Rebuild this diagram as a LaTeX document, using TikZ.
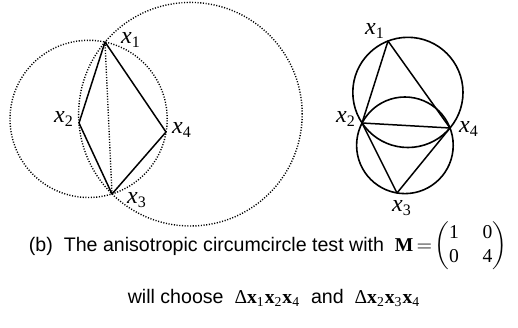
\documentclass[tikz,border=0pt]{standalone}
\usepackage{fontspec}
\setmainfont{Liberation Sans}
\newfontfamily\serif{Liberation Serif}
\usepackage{tikz}
\usetikzlibrary{calc}

\newcommand{\lbl}[1]{{\serif\textit{x}\textsubscript{#1}}}
\newcommand{\bvx}[1]{{\serif\textbf{x}\textsubscript{#1}}}

\begin{document}
\begin{tikzpicture}[x=0.5pt,y=0.5pt,
    edge/.style={line width=0.75pt, line join=round},
    dotcirc/.style={line width=0.7pt, dash pattern=on 0.55pt off 0.8pt},
    solcirc/.style={line width=0.8pt},
    lab/.style={font=\fontsize{12}{14}\selectfont, inner sep=0pt},
    captxt/.style={font=\fontsize{9.8}{12}\selectfont, inner sep=0pt}]
  \useasboundingbox (0,0) rectangle (518,-327);

  % Left: circumcircle test with M = I
  \coordinate (a1) at (105,-42);
  \coordinate (a2) at (79,-123);
  \coordinate (a3) at (112,-194);
  \coordinate (a4) at (166,-132);
  \draw[dotcirc] (190.4,-114.2) circle (111.8);
  \draw[dotcirc] (88.6,-118.9) circle (78.6);
  \draw[dotcirc] (a1) -- (a3);
  \draw[edge] (a1) -- (a2) -- (a3) -- (a4) -- cycle;
  \node[lab] (la1) at (131,-40) {\lbl{1}};
  \node[lab] (la2) at (64,-119) {\lbl{2}};
  \node[lab] (la3) at (137,-200) {\lbl{3}};
  \node[lab] (la4) at (182,-130) {\lbl{4}};

  % Right: anisotropic test
  \coordinate (b1) at (388,-41);
  \coordinate (b2) at (362,-123);
  \coordinate (b3) at (397,-193);
  \coordinate (b4) at (450,-128);
  \draw[solcirc] (407.9,-92.4) circle (55.1);
  \draw[solcirc] (404.9,-145.3) circle (48.3);
  \draw[edge] (b1) -- (b2) -- (b3) -- (b4) -- cycle;
  \draw[edge] (b2) -- (b4);
  \node[lab] (lb1) at (375,-31) {\lbl{1}};
  \node[lab] (lb2) at (346,-119) {\lbl{2}};
  \node[lab] (lb3) at (402,-208) {\lbl{3}};
  \node[lab] (lb4) at (469,-129) {\lbl{4}};

  % Caption
  \node[captxt] (cap1) at (268,-246) {(b)\ \ The anisotropic circumcircle test with\ \ 
    {\serif\textbf{M}}\,$=\!\left(\vcenter{\hbox{\serif\begin{tabular}{@{}c@{\hspace{1.2em}}c@{}}1&0\\0&4\end{tabular}}}\right)$};
  \node[captxt] (cap2) at (274,-298) {will choose\ \ {\serif Δ\bvx{1}\bvx{2}\bvx{4}}\ \ and\ \ {\serif Δ\bvx{2}\bvx{3}\bvx{4}}};
\end{tikzpicture}
\end{document}
